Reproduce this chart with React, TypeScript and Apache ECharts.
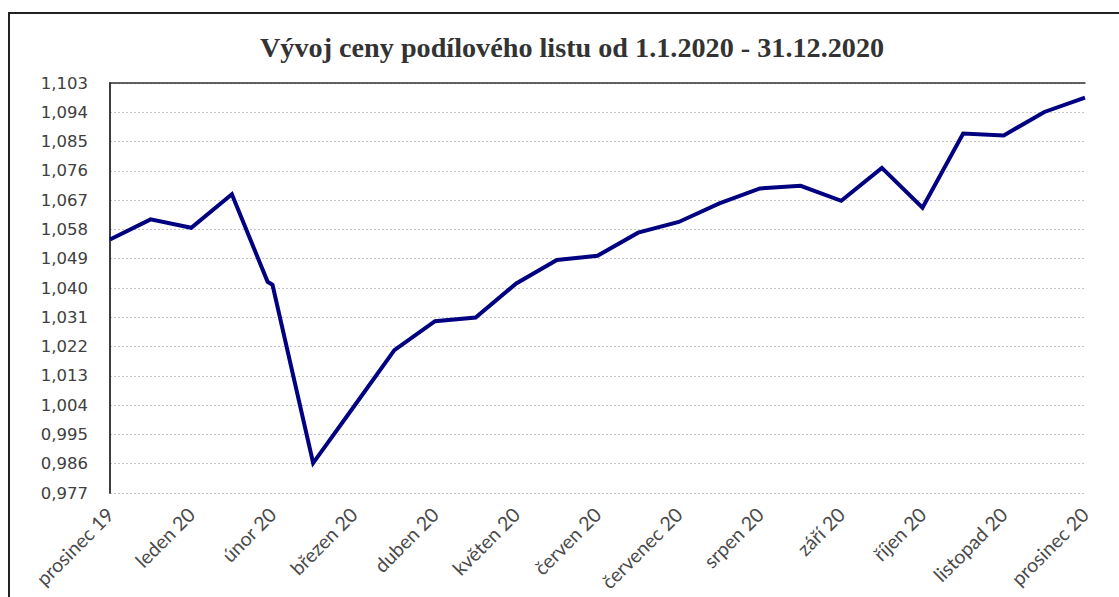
import React, { useEffect, useRef } from "react";
import * as echarts from "echarts";

const titleText = "Vývoj ceny podílového listu od 1.1.2020 - 31.12.2020";

const monthLabels = [
  "prosinec 19", "leden 20", "únor 20", "březen 20", "duben 20", "květen 20",
  "červen 20", "červenec 20", "srpen 20", "září 20", "říjen 20", "listopad 20", "prosinec 20",
];

// position of each observation in months from the first label
const obsMonth = [
  0, 0.5, 1, 1.5, 1.94, 2, 2.5, 3, 3.5, 4, 4.5, 5, 5.5, 6, 6.5, 7, 7.5, 8, 8.5, 9,
  9.5, 10, 10.5, 11, 11.5, 12,
];

const navValues = [
  1.0549, 1.0611, 1.0585, 1.0688, 1.0419, 1.041, 0.9862, 1.0035, 1.0209, 1.0298,
  1.0309, 1.0414, 1.0486, 1.0499, 1.057, 1.0603, 1.066, 1.0706, 1.0714, 1.0668,
  1.0769, 1.0647, 1.0875, 1.0869, 1.0941, 1.0985,
];

const yMin = 0.977;
const yMax = 1.103;
const yStep = 0.009;

export default function App() {
  const ref = useRef<HTMLDivElement>(null);
  useEffect(() => {
    if (!ref.current) return;
    const chart = echarts.init(ref.current, null, { renderer: "svg" });
    const axisColor = "#303030";
    chart.setOption({
      animation: false,
      backgroundColor: "#ffffff",
      title: {
        text: titleText,
        left: 255,
        top: 28,
        textStyle: {
          fontFamily: "Liberation Serif",
          fontWeight: "bold",
          fontSize: 28.2,
          color: "#333333",
        },
      },
      graphic: [
        {
          type: "rect",
          shape: { x: 9, y: 13, width: 1300, height: 800 },
          style: { fill: "none", stroke: "#222222", lineWidth: 2 },
          silent: true,
        },
      ],
      grid: { left: 110, top: 83, right: 34, bottom: 104, containLabel: false },
      xAxis: [
        {
          type: "value",
          min: 0,
          max: 12,
          interval: 1,
          axisLine: { show: false },
          axisTick: { show: false },
          splitLine: { show: false },
          axisLabel: {
            rotate: 45,
            margin: 18,
            fontFamily: "Lato",
            fontSize: 19.5,
            color: "#4a4a4a",
            formatter: (v: number) => monthLabels[Math.round(v)] ?? "",
          },
        },
        {
          type: "value",
          position: "top",
          min: 0,
          max: 12,
          axisLine: { show: true, lineStyle: { color: axisColor, width: 1.5 } },
          axisTick: { show: false },
          axisLabel: { show: false },
          splitLine: { show: false },
        },
      ],
      yAxis: [
        {
          type: "value",
          min: yMin,
          max: yMax,
          interval: yStep,
          axisLine: { show: true, lineStyle: { color: axisColor, width: 1.5 } },
          axisTick: { show: false },
          axisLabel: {
            margin: 22,
            fontFamily: "DejaVu Sans",
            fontSize: 16.5,
            color: "#404040",
            formatter: (v: number) => v.toFixed(3).replace(".", ","),
          },
          splitLine: {
            show: true,
            lineStyle: { color: "#c4c4cc", type: [2, 2], width: 1 },
          },
        },
        {
          type: "value",
          position: "right",
          min: yMin,
          max: yMax,
          interval: yStep,
          axisLine: { show: true, lineStyle: { color: axisColor, width: 1.5 } },
          axisTick: { show: false },
          axisLabel: { show: false },
          splitLine: { show: false },
        },
      ],
      series: [
        {
          type: "line",
          xAxisIndex: 0,
          yAxisIndex: 0,
          data: obsMonth.map((m, i) => [m, navValues[i]]),
          showSymbol: false,
          lineStyle: { color: "#000080", width: 4, join: "miter" },
          itemStyle: { color: "#000080" },
        },
      ],
    });
    return () => chart.dispose();
  }, []);
  return (
    <div
      ref={ref}
      style={{ position: "fixed", left: 0, top: 0, width: 1119, height: 597 }}
    />
  );
}
